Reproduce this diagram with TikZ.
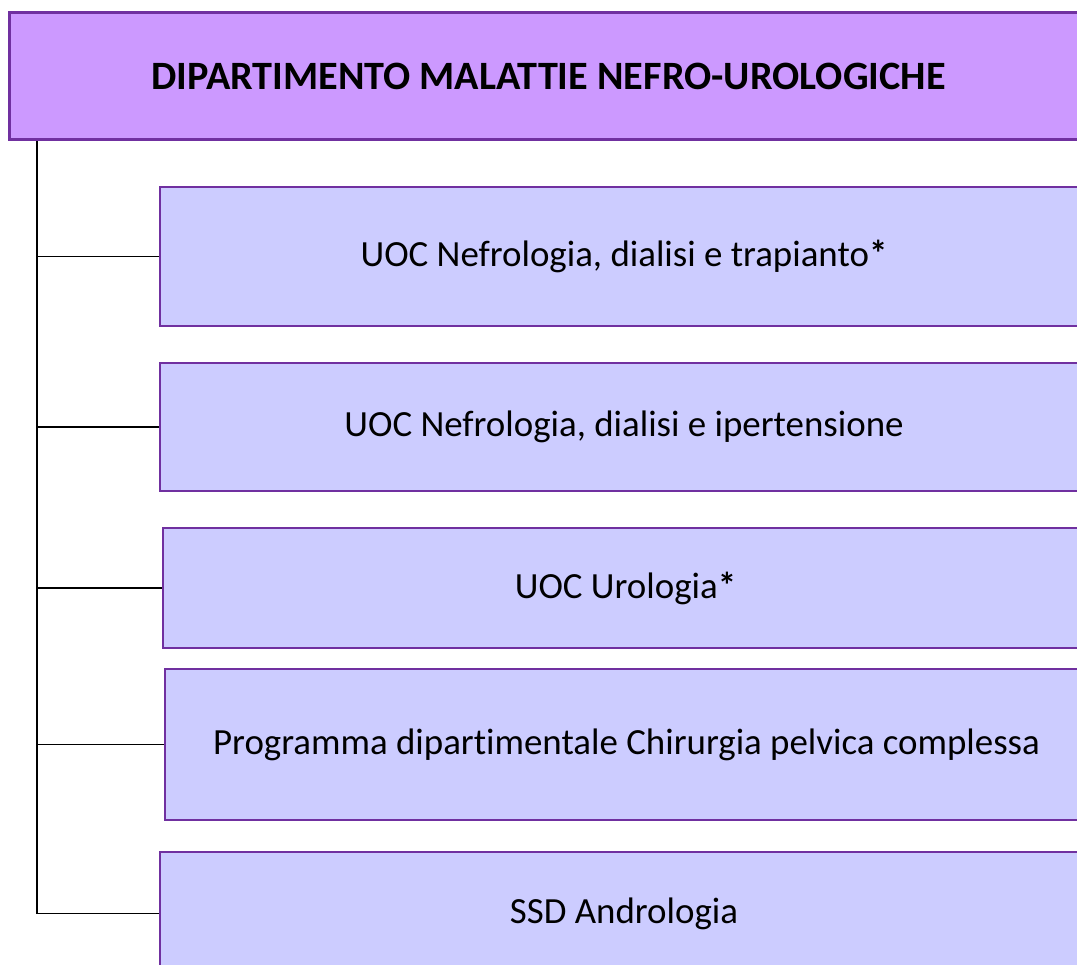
\documentclass[tikz,border=0pt]{standalone}
\usepackage{fontspec}
\setmainfont[Ligatures=NoCommon]{Carlito}
\usetikzlibrary{positioning}

\definecolor{deptfill}{RGB}{204,153,255}
\definecolor{unitfill}{RGB}{204,204,255}
\definecolor{purpleline}{RGB}{112,48,160}

\tikzset{
  dept/.style={draw=purpleline,fill=deptfill,line width=1.7pt,inner sep=0pt,
    font=\fontsize{22.9}{27}\selectfont\bfseries},
  unit/.style={draw=purpleline,fill=unitfill,line width=1pt,inner sep=0pt,
    font=\fontsize{21}{25}\selectfont},
  link/.style={black,line width=1.1pt}
}

\begin{document}
\begin{tikzpicture}[x=0.02cm,y=-0.02cm]
 \xdef\trunkx{37}
 \useasboundingbox (0,0) rectangle (1077,964);
 \clip (0,0) rectangle (1077,964);
  \node[dept,minimum width=21.58cm,minimum height=2.56cm] (dept) at (548.5,76)
    {DIPARTIMENTO MALATTIE NEFRO-UROLOGICHE};
  \node[unit,minimum width=18.56cm,minimum height=2.78cm] (nefrotrap) at (624,256.5)
    {UOC Nefrologia, dialisi e trapianto\textbf{*}};
  \node[unit,minimum width=18.56cm,minimum height=2.56cm] (nefroiper) at (624,427)
    {UOC Nefrologia, dialisi e ipertensione};
  \node[unit,minimum width=18.5cm,minimum height=2.4cm] (uro) at (625.5,588)
    {UOC Urologia\textbf{*}};
  \node[unit,minimum width=18.46cm,minimum height=3.02cm] (pelvica) at (626.5,744.5)
    {Programma dipartimentale Chirurgia pelvica complessa};
  \node[unit,minimum width=18.56cm,minimum height=2.46cm] (andro) at (624,913.5)
    {SSD Andrologia};
  \coordinate (trunk) at (dept.south -| \trunkx,0);
  \draw[link] (trunk) |- (andro.west);
  \foreach \u in {nefrotrap,nefroiper,uro,pelvica}
    \draw[link] (trunk |- \u.west) -- (\u.west);
\end{tikzpicture}
\end{document}
